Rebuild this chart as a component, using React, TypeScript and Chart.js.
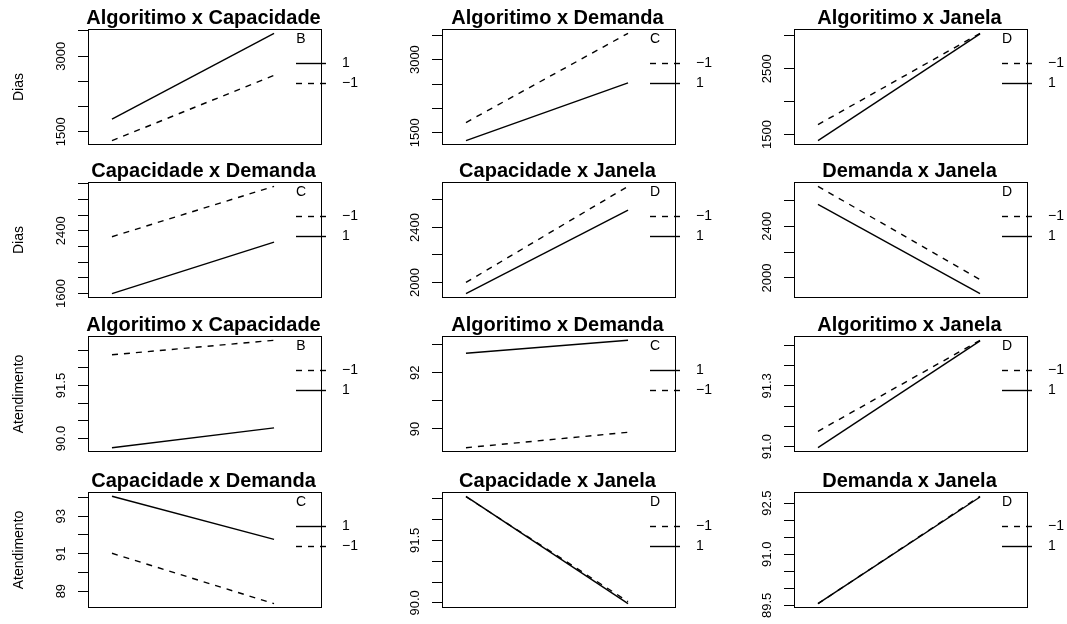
import { useEffect, useRef } from 'react';
import { Chart, registerables } from 'chart.js';
Chart.register(...registerables);

const W = 1067;
const H = 624;
const colLeft = [88, 442, 794];
const rowTop = [29, 182, 336, 492];
const BOX_W = 234;
const BOX_H = 116;
const FONT = '"Liberation Sans", Arial, Helvetica, sans-serif';

// x positions of the two levels of the x factor
const xLevels = [1, 2];
const xRange = [0.852, 2.296];

// Response "Dias": [x level 1, x level 2]; Pos = trace level 1 (solid), Neg = trace level -1 (dashed)
const diasAlgCapPos = [1749, 3454];
const diasAlgCapNeg = [1323, 2621];
const diasAlgDemPos = [1337, 2524];
const diasAlgDemNeg = [1710, 3540];
const diasAlgJanPos = [1405, 3030];
const diasAlgJanNeg = [1650, 3040];
const diasCapDemPos = [1598, 2255];
const diasCapDemNeg = [2325, 2968];
const diasCapJanPos = [1918, 2525];
const diasCapJanNeg = [2000, 2699];
const diasDemJanPos = [2570, 1878];
const diasDemJanNeg = [2709, 1987];

// Response "Atendimento"
const atAlgCapPos = [89.74, 90.3];
const atAlgCapNeg = [92.37, 92.78];
const atAlgDemPos = [92.7, 93.16];
const atAlgDemNeg = [89.33, 89.88];
const atAlgJanPos = [90.995, 91.522];
const atAlgJanNeg = [91.076, 91.525];
const atCapDemPos = [94.06, 91.76];
const atCapDemNeg = [91.02, 88.33];
const atCapJanPos = [92.56, 89.98];
const atCapJanNeg = [92.55, 90.03];
const atDemJanPos = [89.55, 92.68];
const atDemJanNeg = [89.55, 92.7];

// y ticks and their labels ('' = tick without label)
const ticksDiasAlgCap = [1500, 2000, 2500, 3000, 3500];
const labsDiasAlgCap = ['1500', '', '', '3000', ''];
const ticksDiasAlgDem = [1500, 2000, 2500, 3000, 3500];
const labsDiasAlgDem = ['1500', '', '', '3000', ''];
const ticksDiasAlgJan = [1500, 2000, 2500, 3000];
const labsDiasAlgJan = ['1500', '', '2500', ''];
const ticksDiasCapDem = [1600, 1800, 2000, 2200, 2400, 2600, 2800, 3000];
const labsDiasCapDem = ['1600', '', '', '', '2400', '', '', ''];
const ticksDiasCapJan = [2000, 2200, 2400, 2600];
const labsDiasCapJan = ['2000', '', '2400', ''];
const ticksDiasDemJan = [2000, 2200, 2400, 2600];
const labsDiasDemJan = ['2000', '', '2400', ''];
const ticksAtAlgCap = [90, 90.5, 91, 91.5, 92, 92.5];
const labsAtAlgCap = ['90.0', '', '', '91.5', '', ''];
const ticksAtAlgDem = [90, 91, 92, 93];
const labsAtAlgDem = ['90', '', '92', ''];
const ticksAtAlgJan = [91, 91.1, 91.2, 91.3, 91.4, 91.5];
const labsAtAlgJan = ['91.0', '', '', '91.3', '', ''];
const ticksAtCapDem = [89, 90, 91, 92, 93, 94];
const labsAtCapDem = ['89', '', '91', '', '93', ''];
const ticksAtCapJan = [90, 90.5, 91, 91.5, 92, 92.5];
const labsAtCapJan = ['90.0', '', '', '91.5', '', ''];
const ticksAtDemJan = [89.5, 90, 90.5, 91, 91.5, 92, 92.5];
const labsAtDemJan = ['89.5', '', '', '91.0', '', '', '92.5'];

const panelTitles = [
  'Algoritimo x Capacidade',
  'Algoritimo x Demanda',
  'Algoritimo x Janela',
  'Capacidade x Demanda',
  'Capacidade x Janela',
  'Demanda x Janela',
];
const traceFactors = ['B', 'C', 'D', 'C', 'D', 'D'];
const responses = ['Dias', 'Atendimento'];
const traceLevels = ['1', '\u22121'];

const posSeries = [
  diasAlgCapPos, diasAlgDemPos, diasAlgJanPos, diasCapDemPos, diasCapJanPos, diasDemJanPos,
  atAlgCapPos, atAlgDemPos, atAlgJanPos, atCapDemPos, atCapJanPos, atDemJanPos,
];
const negSeries = [
  diasAlgCapNeg, diasAlgDemNeg, diasAlgJanNeg, diasCapDemNeg, diasCapJanNeg, diasDemJanNeg,
  atAlgCapNeg, atAlgDemNeg, atAlgJanNeg, atCapDemNeg, atCapJanNeg, atDemJanNeg,
];
const tickSets = [
  ticksDiasAlgCap, ticksDiasAlgDem, ticksDiasAlgJan, ticksDiasCapDem, ticksDiasCapJan, ticksDiasDemJan,
  ticksAtAlgCap, ticksAtAlgDem, ticksAtAlgJan, ticksAtCapDem, ticksAtCapJan, ticksAtDemJan,
];
const labelSets = [
  labsDiasAlgCap, labsDiasAlgDem, labsDiasAlgJan, labsDiasCapDem, labsDiasCapJan, labsDiasDemJan,
  labsAtAlgCap, labsAtAlgDem, labsAtAlgJan, labsAtCapDem, labsAtCapJan, labsAtDemJan,
];

const DASH = [6, 6];
const LW = 1.4;

function makeDeco(i: number) {
  const row = Math.floor(i / 3);
  const col = i % 3;
  return {
    id: 'deco' + i,
    afterDraw(chart: any) {
      const { ctx, chartArea: a, scales } = chart;
      const ys = scales.y;
      ctx.save();
      // box
      ctx.strokeStyle = '#000';
      ctx.lineWidth = 1;
      ctx.setLineDash([]);
      ctx.strokeRect(Math.round(a.left) + 0.5, Math.round(a.top) + 0.5, Math.round(a.right - a.left) - 1, Math.round(a.bottom - a.top) - 1);
      // title
      ctx.fillStyle = '#000';
      ctx.font = `bold 20px ${FONT}`;
      ctx.textAlign = 'center';
      ctx.textBaseline = 'alphabetic';
      ctx.fillText(panelTitles[i % 6], (a.left + a.right) / 2 - 1.5, a.top - 5);
      // tick labels (rotated, parallel to axis)
      ctx.font = `13px ${FONT}`;
      ctx.textBaseline = 'middle';
      const tv = tickSets[i];
      const tl = labelSets[i];
      tv.forEach((v: number, k: number) => {
        if (!tl[k]) return;
        const y = ys.getPixelForValue(v);
        ctx.save();
        ctx.translate(a.left - 27, y);
        ctx.rotate(-Math.PI / 2);
        ctx.textAlign = 'center';
        ctx.fillText(tl[k], 0, 0);
        ctx.restore();
      });
      // y axis title
      if (col === 0) {
        ctx.save();
        ctx.font = `14px ${FONT}`;
        ctx.translate(19, (a.top + a.bottom) / 2);
        ctx.rotate(-Math.PI / 2);
        ctx.textAlign = 'center';
        ctx.fillText(responses[row < 2 ? 0 : 1], 0, 0);
        ctx.restore();
      }
      // legend
      ctx.font = `14px ${FONT}`;
      ctx.textAlign = 'center';
      ctx.fillText(traceFactors[i % 6], a.right - 21, a.top + 10);
      const pos = posSeries[i];
      const neg = negSeries[i];
      const entries = [
        { label: traceLevels[0], dash: [] as number[], last: pos[pos.length - 1] },
        { label: traceLevels[1], dash: DASH, last: neg[neg.length - 1] },
      ].sort((p, q) => q.last - p.last);
      entries.forEach((e, k) => {
        const y = Math.round(a.top + 34 + k * 20) + 0.5;
        ctx.beginPath();
        ctx.lineWidth = LW;
        ctx.setLineDash(e.dash);
        ctx.moveTo(a.right - 26, y);
        ctx.lineTo(a.right + 4, y);
        ctx.stroke();
        ctx.setLineDash([]);
        ctx.textAlign = 'left';
        ctx.fillText(e.label, a.right + 20, y);
      });
      ctx.restore();
    },
  };
}

function Panel({ i }: { i: number }) {
  const ref = useRef<HTMLCanvasElement>(null);
  useEffect(() => {
    const row = Math.floor(i / 3);
    const col = i % 3;
    const pos = posSeries[i];
    const neg = negSeries[i];
    const all = [...pos, ...neg];
    const lo = Math.min(...all);
    const hi = Math.max(...all);
    const pad = 0.04 * (hi - lo);
    const ticks = tickSets[i];
    const chart = new Chart(ref.current as HTMLCanvasElement, {
      type: 'line',
      data: {
        datasets: [
          {
            data: xLevels.map((x, k) => ({ x, y: neg[k] })),
            borderColor: '#000',
            borderWidth: LW,
            borderDash: DASH,
            pointRadius: 0,
            fill: false,
            tension: 0,
          },
          {
            data: xLevels.map((x, k) => ({ x, y: pos[k] })),
            borderColor: '#000',
            borderWidth: LW,
            pointRadius: 0,
            fill: false,
            tension: 0,
          },
        ],
      },
      options: {
        animation: false,
        responsive: false,
        devicePixelRatio: 1,
        events: [],
        layout: {
          padding: {
            left: colLeft[col] - 10,
            top: rowTop[row],
            right: W - (colLeft[col] + BOX_W),
            bottom: H - (rowTop[row] + BOX_H),
          },
        },
        plugins: { legend: { display: false }, tooltip: { enabled: false }, title: { display: false } },
        scales: {
          x: { type: 'linear', min: xRange[0], max: xRange[1], display: false },
          y: {
            type: 'linear',
            min: lo - pad,
            max: hi + pad,
            afterBuildTicks: (s: any) => {
              s.ticks = ticks.map((v) => ({ value: v }));
            },
            afterFit: (s: any) => {
              s.width = 10;
            },
            border: { display: false },
            grid: { display: true, drawOnChartArea: false, drawTicks: true, tickLength: 10, color: '#000', lineWidth: 1 },
            ticks: { display: false },
          },
        },
      },
      plugins: [makeDeco(i)],
    } as any);
    return () => chart.destroy();
  }, [i]);
  return (
    <canvas
      ref={ref}
      width={W}
      height={H}
      style={{ position: 'absolute', left: 0, top: 0, width: W, height: H }}
    />
  );
}

export default function App() {
  return (
    <div style={{ position: 'absolute', left: 0, top: 0, width: W, height: H, background: '#fff' }}>
      {Array.from({ length: 12 }, (_, i) => (
        <Panel key={i} i={i} />
      ))}
    </div>
  );
}
